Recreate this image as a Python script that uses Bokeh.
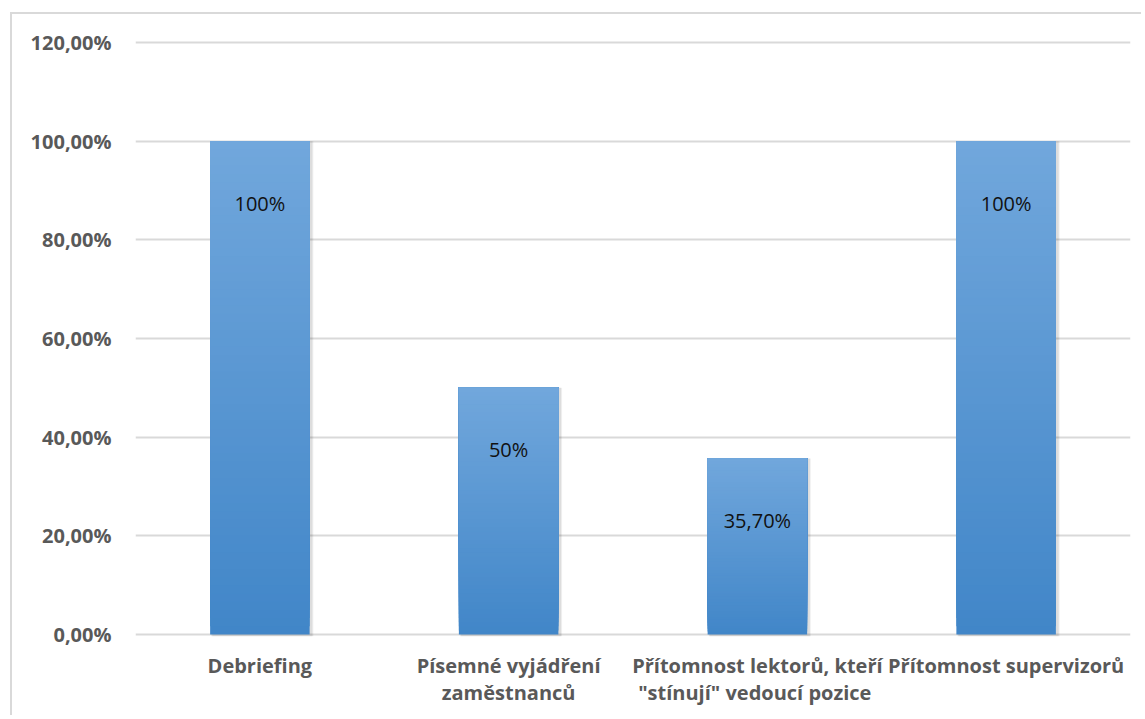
from bokeh.plotting import figure
from bokeh.models import ColumnDataSource, FactorRange, Range1d, FixedTicker
from bokeh.transform import dodge
from bokeh.core.properties import value
from bokeh.embed import file_html
from bokeh.resources import INLINE

# ---- data ----
categories = [
    "Debriefing",
    "Písemné vyjádření\nzaměstnanců",
    "Přítomnost lektorů, kteří\n \"stínují\" vedoucí pozice",
    "Přítomnost supervizorů",
]
values = [1.0, 0.5, 0.357, 1.0]
value_labels = ["100%", "50%", "35,70%", "100%"]
y_ticks = [0.0, 0.2, 0.4, 0.6, 0.8, 1.0, 1.2]
y_tick_labels = ["0,00%", "20,00%", "40,00%", "60,00%", "80,00%", "100,00%", "120,00%"]

# ---- style ----
FONT = "Open Sans"
TICK_COLOR = "#595959"
GRID_COLOR = "#d9d9d9"
TOP_RGB = (0x71, 0xa7, 0xdc)
BOT_RGB = (0x41, 0x86, 0xc8)
BAR_W = 0.4
N_SLICES = 60

p = figure(
    width=1131, height=703,
    x_range=FactorRange(*categories),
    y_range=Range1d(-0.004, 1.204),
    output_backend="svg", toolbar_location=None,
    min_border_left=123, min_border_right=13,
    min_border_top=26, min_border_bottom=81,
)
p.outline_line_color = None
p.background_fill_color = "white"
p.border_fill_color = "white"
p.styles = {"margin-left": "10px", "margin-top": "12px",
            "border-left": "2px solid #d9d9d9", "border-top": "2px solid #d9d9d9"}

# soft shadow behind bars
shadow = ColumnDataSource(dict(x=categories, top=values))
for off, alpha in [(0.012, 0.06), (0.008, 0.08)]:
    p.vbar(x=dodge("x", off, range=p.x_range), top="top", bottom=-0.006, width=BAR_W + 0.006,
           source=shadow, fill_color="black", fill_alpha=alpha, line_color=None)

# gradient bars built from the values (each slice runs to the bar top, later slices cover upper part)
xs, bots, tops, cols = [], [], [], []
for c, v in zip(categories, values):
    for i in range(N_SLICES):
        f = (i + 0.5) / N_SLICES
        r = round(BOT_RGB[0] + (TOP_RGB[0] - BOT_RGB[0]) * f)
        g = round(BOT_RGB[1] + (TOP_RGB[1] - BOT_RGB[1]) * f)
        b = round(BOT_RGB[2] + (TOP_RGB[2] - BOT_RGB[2]) * f)
        xs.append(c)
        bots.append(v * i / N_SLICES)
        tops.append(v)
        cols.append("#%02x%02x%02x" % (r, g, b))
bars = ColumnDataSource(dict(x=xs, bottom=bots, top=tops, color=cols))
p.vbar(x="x", bottom="bottom", top="top", width=BAR_W, source=bars,
       fill_color="color", line_color=None)

# value labels
lab = ColumnDataSource(dict(x=categories, y=values, t=value_labels))
p.text(x="x", y="y", text="t", source=lab, text_align="center", text_baseline="middle",
       y_offset=62, text_font=value(FONT), text_font_size="20px", text_color="#111111")

# grid
p.xgrid.grid_line_color = None
p.ygrid.grid_line_color = GRID_COLOR
p.ygrid.grid_line_width = 2
p.ygrid.ticker = FixedTicker(ticks=y_ticks)

# y axis
p.yaxis.ticker = FixedTicker(ticks=y_ticks)
p.yaxis.major_label_overrides = {t: l for t, l in zip(y_ticks, y_tick_labels)}
p.yaxis.axis_line_color = None
p.yaxis.major_tick_line_color = None
p.yaxis.minor_tick_line_color = None
p.yaxis.major_tick_out = 0
p.yaxis.major_tick_in = 0
p.yaxis.major_label_standoff = 24
p.yaxis.major_label_text_font = FONT
p.yaxis.major_label_text_font_style = "bold"
p.yaxis.major_label_text_font_size = "20px"
p.yaxis.major_label_text_color = TICK_COLOR

# x axis (multi-line category labels)
ax = p.xaxis[0]
ax.axis_line_color = None
ax.major_tick_line_color = None
ax.minor_tick_line_color = None
ax.major_tick_out = 0
ax.major_tick_in = 0
ax.major_label_standoff = 15
ax.major_label_orientation = "horizontal"
ax.major_label_text_font = FONT
ax.major_label_text_font_style = "bold"
ax.major_label_text_font_size = "20px"
ax.major_label_text_line_height = 1.0
ax.major_label_text_color = TICK_COLOR

open("out.html", "w").write(file_html(p, INLINE))
